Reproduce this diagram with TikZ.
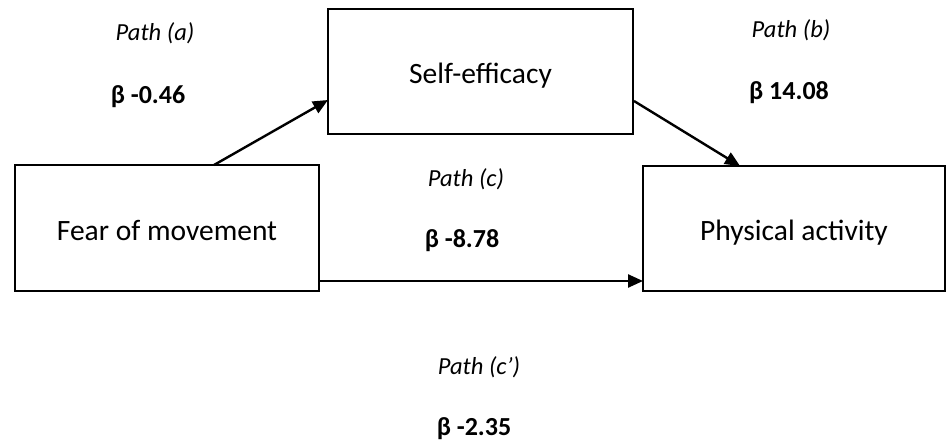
\documentclass[tikz,border=0pt]{standalone}
\usepackage{fontspec}
\setmainfont{Carlito}
\usetikzlibrary{arrows.meta}
\begin{document}
\begin{tikzpicture}[x=1pt,y=-1pt,
  box/.style={draw,line width=1.5pt,inner sep=0pt,text height=24pt,text depth=0pt,font=\fontsize{29.5}{32}\selectfont},
  conn/.style={line width=2.4pt,-{Triangle[length=15pt,width=13pt]}},
  plab/.style={font=\fontsize{24.5}{28}\selectfont\itshape},
  blab/.style={font=\fontsize{26}{28}\selectfont\bfseries}]
\useasboundingbox (0,0) rectangle (946,442);
\node[box,minimum width=304pt,minimum height=126pt] (fear) at (167,228) {Fear of movement};
\node[box,minimum width=305pt,minimum height=125pt] (self) at (480.5,71.5) {Self-efficacy};
\node[box,minimum width=302pt,minimum height=125pt] (phys) at (794,228.5) {Physical activity};
\coordinate (aS) at (214,165);
\coordinate (aE) at (328,100);
\coordinate (bS) at (634,101);
\coordinate (bE) at (740,166);
\coordinate (cS) at (319,281);
\coordinate (cE) at (643,281);
\draw[conn] (aS) -- (aE);
\draw[conn] (bS) -- (bE);
\draw[conn] (cS) -- (cE);
\node[plab] (pa) at (155,33) {Path (a)};
\node[blab] (ba) at (148,97) {β -0.46};
\node[plab] (pb) at (791,30) {Path (b)};
\node[blab] (bb) at (789,93) {β 14.08};
\node[plab] (pc) at (466,179) {Path (c)};
\node[blab] (bc) at (462,241) {β -8.78};
\node[plab] (pcc) at (479,367) {Path (c’)};
\node[blab] (bcc) at (474,429) {β -2.35};
\end{tikzpicture}
\end{document}
